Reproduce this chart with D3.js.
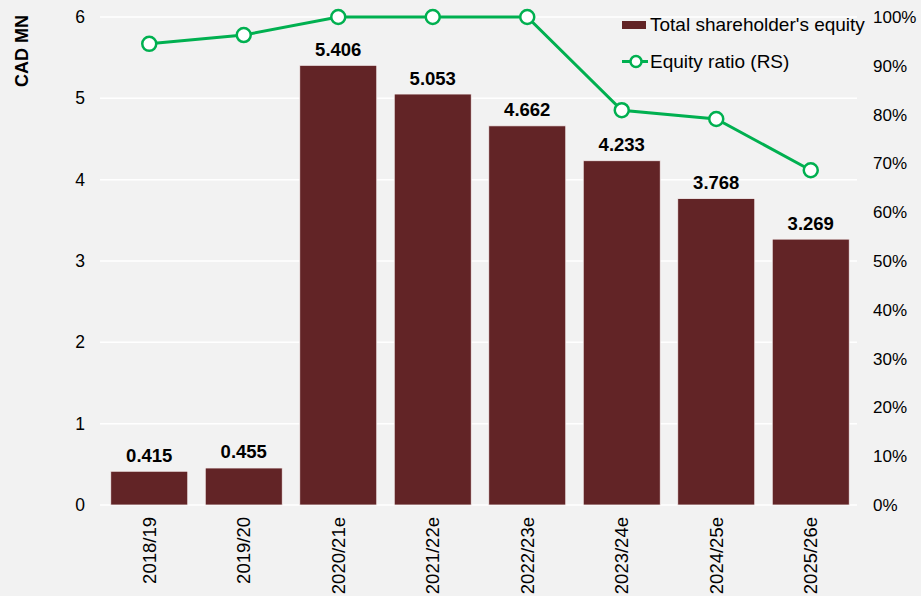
<!DOCTYPE html>
<html>
<head>
<meta charset="utf-8">
<script src="https://cdn.jsdelivr.net/npm/d3@7"></script>
<style>
  html, body { margin: 0; padding: 0; background: #f2f2f2; }
  svg { display: block; font-family: "Liberation Sans", Arial, sans-serif; }
</style>
</head>
<body>
<svg id="chart" width="921" height="596"></svg>
<script>
// Fiscal years and figures
const years = ["2018/19", "2019/20", "2020/21e", "2021/22e", "2022/23e", "2023/24e", "2024/25e", "2025/26e"];
const equity = [0.415, 0.455, 5.406, 5.053, 4.662, 4.233, 3.768, 3.269];
const equityRatio = [0.945, 0.963, 1.0, 1.0, 1.0, 0.809, 0.791, 0.686];
const leftTicks = [0, 1, 2, 3, 4, 5, 6];
const rightTicks = [0, 0.1, 0.2, 0.3, 0.4, 0.5, 0.6, 0.7, 0.8, 0.9, 1.0];

const barColor = "#622426";
const lineColor = "#00b050";
const fontFam = "Liberation Sans, Arial, sans-serif";

const svg = d3.select("#chart");
const W = 921, H = 596;
const m = { left: 102, right: 858, top: 17, bottom: 505 };

svg.append("rect").attr("width", W).attr("height", H).attr("fill", "#f2f2f2");

const x = d3.scaleBand().domain(years).range([m.left, m.right]).paddingInner(0.185).paddingOuter(0.0925);
const yL = d3.scaleLinear().domain([0, 6]).range([m.bottom, m.top]);
const yR = d3.scaleLinear().domain([0, 1]).range([m.bottom, m.top]);

// gridlines
svg.append("g").selectAll("line").data(leftTicks).join("line")
  .attr("x1", 100).attr("x2", 857)
  .attr("y1", d => yL(d)).attr("y2", d => yL(d))
  .attr("stroke", "#ffffff").attr("stroke-width", 1.5);

// left axis
const axL = d3.axisLeft(yL).tickValues(leftTicks).tickSize(0).tickPadding(0).tickFormat(d3.format("d"));
const gL = svg.append("g").attr("transform", "translate(85,0)").call(axL);
gL.select(".domain").remove();
gL.selectAll("text").attr("font-size", 17.5).attr("fill", "#000").attr("font-family", fontFam);

// right axis
const axR = d3.axisRight(yR).tickValues(rightTicks).tickSize(0).tickPadding(0).tickFormat(d3.format(".0%"));
const gR = svg.append("g").attr("transform", "translate(873,0)").call(axR);
gR.select(".domain").remove();
gR.selectAll("text").attr("font-size", 17).attr("fill", "#000").attr("font-family", fontFam);

// axis title
svg.append("text")
  .attr("transform", "translate(28,51) rotate(-90)")
  .attr("text-anchor", "middle")
  .attr("font-size", 18).attr("font-weight", "bold")
  .text("CAD MN");

// bars
svg.append("g").selectAll("rect").data(years).join("rect")
  .attr("x", d => x(d))
  .attr("width", x.bandwidth())
  .attr("y", (d, i) => yL(equity[i]))
  .attr("height", (d, i) => yL(0) - yL(equity[i]))
  .attr("fill", barColor)
  .attr("stroke", "#f6f0f0").attr("stroke-width", 0.8);

// bar value labels
svg.append("g").selectAll("text").data(years).join("text")
  .attr("x", d => x(d) + x.bandwidth() / 2)
  .attr("y", (d, i) => yL(equity[i]) - 9.5)
  .attr("text-anchor", "middle")
  .attr("font-size", 18.5).attr("font-weight", "bold")
  .text((d, i) => equity[i].toFixed(3));

// x labels
const gX = svg.append("g").attr("transform", `translate(0,${m.bottom})`)
  .call(d3.axisBottom(x).tickSize(0).tickPadding(0));
gX.select(".domain").remove();
gX.selectAll("text")
  .attr("font-size", 18.5).attr("fill", "#000").attr("font-family", fontFam)
  .attr("transform", "rotate(-90)")
  .attr("text-anchor", "end")
  .attr("x", -12).attr("y", 0).attr("dy", "0.35em");

// equity ratio line
const line = d3.line().x((d, i) => x(years[i]) + x.bandwidth() / 2).y(d => yR(d));
svg.append("path").datum(equityRatio)
  .attr("d", line).attr("fill", "none")
  .attr("stroke", lineColor).attr("stroke-width", 3);
svg.append("g").selectAll("circle").data(equityRatio).join("circle")
  .attr("cx", (d, i) => x(years[i]) + x.bandwidth() / 2)
  .attr("cy", d => yR(d))
  .attr("r", 7)
  .attr("fill", "#ffffff").attr("stroke", lineColor).attr("stroke-width", 2.5);

// legend
const lg = svg.append("g");
lg.append("rect").attr("x", 622).attr("y", 21).attr("width", 24).attr("height", 8).attr("fill", barColor);
lg.append("text").attr("x", 650).attr("y", 30.5).attr("font-size", 19).text("Total shareholder's equity");
lg.append("line").attr("x1", 622).attr("x2", 648).attr("y1", 61.5).attr("y2", 61.5)
  .attr("stroke", lineColor).attr("stroke-width", 3);
lg.append("circle").attr("cx", 636).attr("cy", 61.5).attr("r", 5.5)
  .attr("fill", "#fff").attr("stroke", lineColor).attr("stroke-width", 2.5);
lg.append("text").attr("x", 650).attr("y", 67.5).attr("font-size", 19).text("Equity ratio (RS)");
</script>
</body>
</html>
